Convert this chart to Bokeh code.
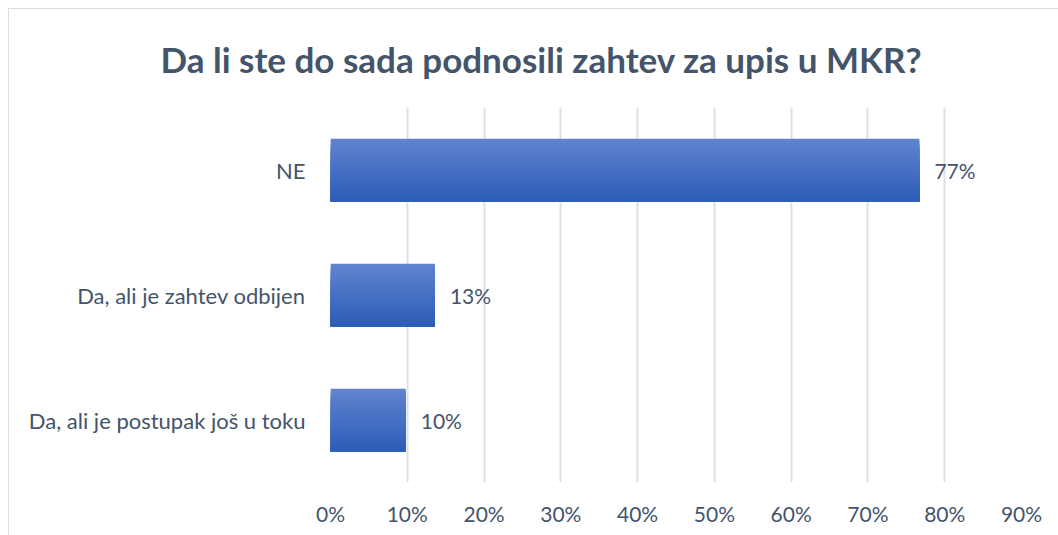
from bokeh.plotting import figure
from bokeh.models import ColumnDataSource, LabelSet, FactorRange, Range1d, FixedTicker
from bokeh.transform import dodge
from bokeh.core.properties import value
from bokeh.embed import file_html
from bokeh.resources import INLINE

# ---- data ----
categories = ["NE", "Da, ali je zahtev odbijen", "Da, ali je postupak još u toku"]
values = [76.7, 13.6, 9.8]
value_labels = ["77%", "13%", "10%"]
tick_values = [0, 10, 20, 30, 40, 50, 60, 70, 80, 90]
tick_labels = ["0%", "10%", "20%", "30%", "40%", "50%", "60%", "70%", "80%", "90%"]
title_text = "Da li ste do sada podnosili zahtev za upis u MKR?"

TEXT = "#44546A"
GRID = "#DCE1E8"
FONT = "Lato"

source = ColumnDataSource(dict(cat=categories, val=values, lab=value_labels))

p = figure(
    width=1050, height=527,
    y_range=FactorRange(factors=categories[::-1], range_padding=0),
    x_range=Range1d(0, 90),
    output_backend="svg", toolbar_location=None,
    min_border_left=321, min_border_right=38, min_border_top=98, min_border_bottom=54,
)
p.styles = {"margin-left": "8px", "margin-top": "8px",
            "border-left": "1px solid #D9DEE6", "border-top": "1px solid #D9DEE6"}

p.title.text = title_text
p.title.align = "left"
p.title.vertical_align = "top"
p.title.offset = -170
p.title.standoff = 52
p.title.text_font = FONT
p.title.text_font_size = "35px"
p.title.text_font_style = "bold"
p.title.text_color = TEXT

# gradient bars via overlapping slices (each slice runs to the bar bottom)
N = 24
bar_h = 0.5
top = (96, 131, 206)
bot = (45, 93, 183)
for k in range(N):
    t = k / (N - 1)
    c = tuple(int(round(top[i] + (bot[i] - top[i]) * t)) for i in range(3))
    col = "#%02x%02x%02x" % c
    s_top = bar_h / 2 - k * bar_h / N
    s_bot = -bar_h / 2
    p.hbar(y=dodge("cat", (s_top + s_bot) / 2, range=p.y_range), right="val", left=0,
           height=s_top - s_bot, source=source,
           fill_color=col, line_color=None)

labels = LabelSet(x="val", y="cat", text="lab", source=source,
                  x_offset=15, text_align="left", text_baseline="middle",
                  text_font=value(FONT), text_font_size=value("21px"), text_color=value(TEXT))
p.add_layout(labels)

p.xaxis.ticker = FixedTicker(ticks=tick_values)
p.xaxis.major_label_overrides = {v: l for v, l in zip(tick_values, tick_labels)}
for ax in (p.xaxis, p.yaxis):
    ax.axis_line_color = None
    ax.major_tick_line_color = None
    ax.minor_tick_line_color = None
    ax.major_label_text_font = FONT
    ax.major_label_text_color = TEXT
p.xaxis.major_label_text_font_size = "21px"
p.yaxis.major_label_text_font_size = "22px"
p.xaxis.major_label_standoff = 12
p.yaxis.major_label_standoff = 19

p.xgrid.grid_line_color = GRID
p.xgrid.grid_line_width = 2
p.ygrid.grid_line_color = None
p.outline_line_color = None

open("out.html", "w").write(file_html(p, INLINE))
